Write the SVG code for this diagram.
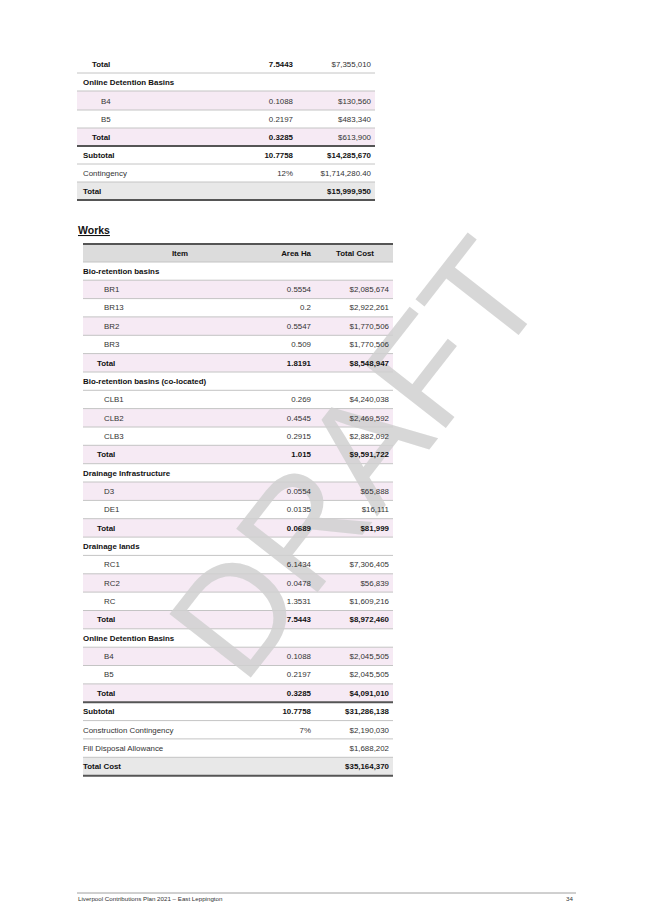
<svg xmlns="http://www.w3.org/2000/svg" width="653" height="923" viewBox="0 0 653 923">
<style>
text{font-family:"Liberation Sans",Arial,sans-serif;font-size:7.9px;fill:#333}
.b{font-weight:bold;fill:#111}
.r{text-anchor:end}
.c{text-anchor:middle}
.p{fill:#f6eaf4}
.g{fill:#e8e8e8}
.h{fill:#dcdcdc}
.l{stroke:#c4c4c4;stroke-width:1}
.t{stroke:#555;stroke-width:2}
</style>
<rect width="653" height="923" fill="#fff"/>
<g id="top-table">
<rect class="p" x="77" y="91" width="298" height="19"/>
<rect class="p" x="77" y="128" width="298" height="18"/>
<rect class="g" x="77" y="182" width="298" height="18"/>
<line class="l" x1="77" y1="73" x2="375" y2="73"/>
<line class="l" x1="77" y1="91" x2="375" y2="91"/>
<line class="l" x1="77" y1="110" x2="375" y2="110"/>
<line class="l" x1="77" y1="128" x2="375" y2="128"/>
<line class="t" x1="77" y1="146" x2="375" y2="146"/>
<line class="l" x1="77" y1="164" x2="375" y2="164"/>
<line class="l" x1="77" y1="182" x2="375" y2="182"/>
<line class="t" x1="77" y1="200" x2="375" y2="200"/>
<text class="b" x="92" y="67">Total</text><text class="b r" x="293" y="67">7.5443</text><text class="r" x="371" y="67">$7,355,010</text>
<text class="b" x="83" y="85">Online Detention Basins</text>
<text x="101" y="104">B4</text><text class="r" x="293" y="104">0.1088</text><text class="r" x="371" y="104">$130,560</text>
<text x="101" y="122">B5</text><text class="r" x="293" y="122">0.2197</text><text class="r" x="371" y="122">$483,340</text>
<text class="b" x="92" y="140">Total</text><text class="b r" x="293" y="140">0.3285</text><text class="r" x="371" y="140">$613,900</text>
<text class="b" x="83" y="158">Subtotal</text><text class="b r" x="293" y="158">10.7758</text><text class="b r" x="371" y="158">$14,285,670</text>
<text x="83" y="176">Contingency</text><text class="r" x="293" y="176">12%</text><text class="r" x="371" y="176">$1,714,280.40</text>
<text class="b" x="83" y="194">Total</text><text class="b r" x="371" y="194">$15,999,950</text>
</g>
<g id="heading">
<text class="b" x="78" y="234" style="font-size:10.5px;text-decoration:underline">Works</text>
</g>
<g id="works-table">
<rect class="h" x="83" y="244" width="310" height="18"/>
<line class="t" x1="83" y1="244" x2="393" y2="244"/>
<line class="l" x1="83" y1="262" x2="393" y2="262"/>
<rect class="p" x="83" y="280.2" width="310" height="18.35"/>
<rect class="p" x="83" y="316.9" width="310" height="18.35"/>
<rect class="p" x="83" y="353.6" width="310" height="18.35"/>
<rect class="p" x="83" y="408.6" width="310" height="18.35"/>
<rect class="p" x="83" y="445.3" width="310" height="18.35"/>
<rect class="p" x="83" y="482" width="310" height="18.35"/>
<rect class="p" x="83" y="518.7" width="310" height="18.35"/>
<rect class="p" x="83" y="573.8" width="310" height="18.35"/>
<rect class="p" x="83" y="610.5" width="310" height="18.35"/>
<rect class="p" x="83" y="647.2" width="310" height="18.35"/>
<rect class="p" x="83" y="683.9" width="310" height="18.35"/>
<rect class="g" x="83" y="757.3" width="310" height="18.35"/>
<path class="l" fill="none" d="M83 280.2H393M83 298.6H393M83 316.9H393M83 335.3H393M83 353.6H393M83 372H393M83 390.3H393M83 408.6H393M83 427H393M83 445.3H393M83 463.7H393M83 482H393M83 500.4H393M83 518.7H393M83 537.1H393M83 555.4H393M83 573.8H393M83 592.1H393M83 610.5H393M83 628.8H393M83 647.2H393M83 665.5H393M83 683.9H393M83 720.6H393M83 738.9H393M83 757.3H393"/>
<line class="t" x1="83" y1="702.2" x2="393" y2="702.2"/>
<line class="t" x1="83" y1="775.7" x2="393" y2="775.7"/>
</g>
<text transform="translate(366,466) rotate(-52)" text-anchor="middle" dominant-baseline="middle" style="font-size:150px;fill:#d0d0d0;fill-opacity:0.85">DRAFT</text>
<g id="works-text">
<text class="b c" x="180" y="256">Item</text><text class="b r" x="311" y="256">Area Ha</text><text class="b c" x="355" y="256">Total Cost</text>
<text class="b" x="83" y="273.7">Bio-retention basins</text>
<text x="104" y="292">BR1</text><text class="r" x="311" y="292">0.5554</text><text class="r" x="389" y="292">$2,085,674</text>
<text x="104" y="310.4">BR13</text><text class="r" x="311" y="310.4">0.2</text><text class="r" x="389" y="310.4">$2,922,261</text>
<text x="104" y="328.8">BR2</text><text class="r" x="311" y="328.8">0.5547</text><text class="r" x="389" y="328.8">$1,770,506</text>
<text x="104" y="347.1">BR3</text><text class="r" x="311" y="347.1">0.509</text><text class="r" x="389" y="347.1">$1,770,506</text>
<text class="b" x="97" y="365.5">Total</text><text class="b r" x="311" y="365.5">1.8191</text><text class="b r" x="389" y="365.5">$8,548,947</text>
<text class="b" x="83" y="383.8">Bio-retention basins (co-located)</text>
<text x="104" y="402.2">CLB1</text><text class="r" x="311" y="402.2">0.269</text><text class="r" x="389" y="402.2">$4,240,038</text>
<text x="104" y="420.5">CLB2</text><text class="r" x="311" y="420.5">0.4545</text><text class="r" x="389" y="420.5">$2,469,592</text>
<text x="104" y="438.9">CLB3</text><text class="r" x="311" y="438.9">0.2915</text><text class="r" x="389" y="438.9">$2,882,092</text>
<text class="b" x="97" y="457.2">Total</text><text class="b r" x="311" y="457.2">1.015</text><text class="b r" x="389" y="457.2">$9,591,722</text>
<text class="b" x="83" y="475.6">Drainage Infrastructure</text>
<text x="104" y="493.9">D3</text><text class="r" x="311" y="493.9">0.0554</text><text class="r" x="389" y="493.9">$65,888</text>
<text x="104" y="512.3">DE1</text><text class="r" x="311" y="512.3">0.0135</text><text class="r" x="389" y="512.3">$16,111</text>
<text class="b" x="97" y="530.6">Total</text><text class="b r" x="311" y="530.6">0.0689</text><text class="b r" x="389" y="530.6">$81,999</text>
<text class="b" x="83" y="549">Drainage lands</text>
<text x="104" y="567.3">RC1</text><text class="r" x="311" y="567.3">6.1434</text><text class="r" x="389" y="567.3">$7,306,405</text>
<text x="104" y="585.7">RC2</text><text class="r" x="311" y="585.7">0.0478</text><text class="r" x="389" y="585.7">$56,839</text>
<text x="104" y="604">RC</text><text class="r" x="311" y="604">1.3531</text><text class="r" x="389" y="604">$1,609,216</text>
<text class="b" x="97" y="622.4">Total</text><text class="b r" x="311" y="622.4">7.5443</text><text class="b r" x="389" y="622.4">$8,972,460</text>
<text class="b" x="83" y="640.7">Online Detention Basins</text>
<text x="104" y="659.1">B4</text><text class="r" x="311" y="659.1">0.1088</text><text class="r" x="389" y="659.1">$2,045,505</text>
<text x="104" y="677.4">B5</text><text class="r" x="311" y="677.4">0.2197</text><text class="r" x="389" y="677.4">$2,045,505</text>
<text class="b" x="97" y="695.8">Total</text><text class="b r" x="311" y="695.8">0.3285</text><text class="b r" x="389" y="695.8">$4,091,010</text>
<text class="b" x="83" y="714.1">Subtotal</text><text class="b r" x="311" y="714.1">10.7758</text><text class="b r" x="389" y="714.1">$31,286,138</text>
<text x="83" y="732.5">Construction Contingency</text><text class="r" x="311" y="732.5">7%</text><text class="r" x="389" y="732.5">$2,190,030</text>
<text x="83" y="750.8">Fill Disposal Allowance</text><text class="r" x="389" y="750.8">$1,688,202</text>
<text class="b" x="83" y="769.2">Total Cost</text><text class="b r" x="389" y="769.2">$35,164,370</text>
</g>
<g id="footer">
<line x1="77" y1="893" x2="576" y2="893" stroke="#888" stroke-width="0.8"/>
<text x="78" y="901" style="font-size:6.2px">Liverpool Contributions Plan 2021 – East Leppington</text>
<text class="r" x="573" y="901" style="font-size:6.2px">34</text>
</g>
</svg>
